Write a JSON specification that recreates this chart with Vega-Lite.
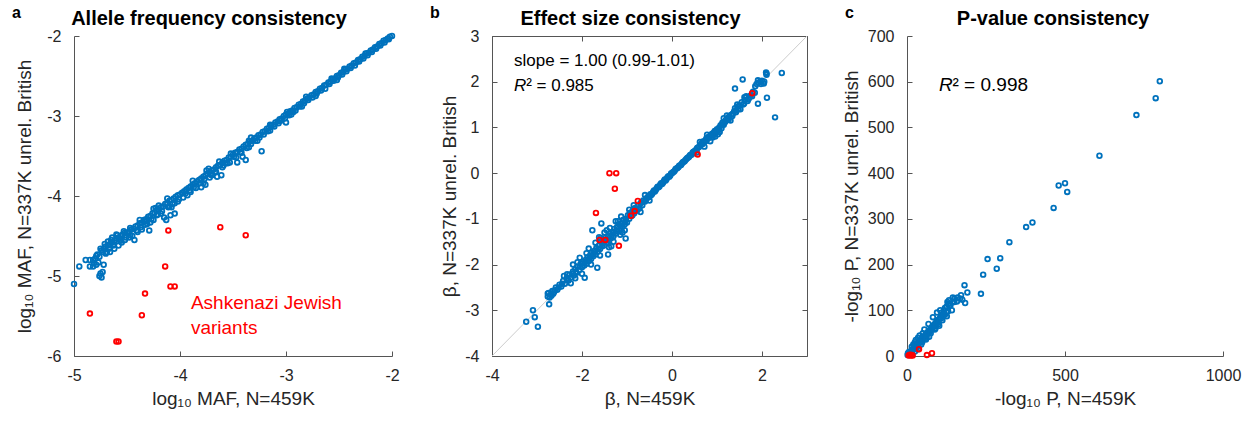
{
"$schema":"https://vega.github.io/schema/vega-lite/v6.json",
"padding":{"left":11,"top":5,"right":5,"bottom":5},
"bounds":"flush",
"spacing":100,
"config":{
 "font":"Liberation Sans",
 "numberFormat":"d",
 "locale":{"number":{"decimal":".","thousands":",","grouping":[3],"currency":["$",""],"minus":"-"}},
 "view":{"stroke":null},
 "axis":{"grid":false,"domainColor":"#555555","domainWidth":1,"tickColor":"#555555","tickWidth":1,"tickSize":-5,"labelFontSize":16,"labelColor":"#262626","labelFlush":false,"labelOverlap":false,"labelFont":"Liberation Sans","titleFont":"Liberation Sans","titleFontSize":19,"titleFontWeight":"normal","titleColor":"#262626"},
 "axisX":{"labelPadding":16,"titlePadding":6},
 "axisY":{"labelPadding":18},
 "point":{"shape":"circle","filled":false,"size":22,"strokeWidth":1.8,"opacity":1},
 "title":{"fontSize":20,"fontWeight":"bold","color":"#000000","anchor":"middle","frame":"group","baseline":"alphabetic","offset":-24,"font":"Liberation Sans"}
},
"datasets":{
"a_o":[
{"x":-2.00,"y":-2.00},{"x":-2.02,"y":-2.01},{"x":-2.04,"y":-2.03},{"x":-2.06,"y":-2.05},{"x":-2.08,"y":-2.06},{"x":-2.10,"y":-2.09},{"x":-2.12,"y":-2.10},{"x":-2.14,"y":-2.13},{"x":-2.16,"y":-2.14},{"x":-2.18,"y":-2.17},{"x":-2.20,"y":-2.18},{"x":-2.22,"y":-2.21},{"x":-2.24,"y":-2.22},{"x":-2.26,"y":-2.25},{"x":-2.28,"y":-2.26},{"x":-2.30,"y":-2.29},{"x":-2.32,"y":-2.30},{"x":-2.34,"y":-2.33},{"x":-2.36,"y":-2.34},{"x":-2.38,"y":-2.37},{"x":-2.40,"y":-2.38},{"x":-2.42,"y":-2.41},{"x":-2.44,"y":-2.42},{"x":-2.46,"y":-2.45},{"x":-2.48,"y":-2.46},{"x":-2.50,"y":-2.49},{"x":-2.52,"y":-2.50},{"x":-2.54,"y":-2.53},{"x":-2.56,"y":-2.54},{"x":-2.58,"y":-2.57},{"x":-2.60,"y":-2.58},{"x":-2.62,"y":-2.61},{"x":-2.64,"y":-2.62},{"x":-2.66,"y":-2.65},{"x":-2.68,"y":-2.66},{"x":-2.70,"y":-2.69},{"x":-2.72,"y":-2.70},{"x":-2.74,"y":-2.73},{"x":-2.76,"y":-2.74},{"x":-2.78,"y":-2.77},{"x":-2.80,"y":-2.78},{"x":-2.82,"y":-2.81},{"x":-2.84,"y":-2.82},{"x":-2.86,"y":-2.85},{"x":-2.88,"y":-2.86},{"x":-2.90,"y":-2.89},{"x":-2.92,"y":-2.90},{"x":-2.94,"y":-2.93},{"x":-2.96,"y":-2.94},{"x":-2.98,"y":-2.97},{"x":-3.00,"y":-2.98},
{"x":-2.15,"y":-2.16},{"x":-2.35,"y":-2.37},{"x":-2.52,"y":-2.55},{"x":-2.63,"y":-2.66},{"x":-2.72,"y":-2.75},{"x":-2.85,"y":-2.88},{"x":-2.95,"y":-2.98},{"x":-2.45,"y":-2.41},{"x":-2.25,"y":-2.22},{"x":-2.57,"y":-2.53},{"x":-2.81,"y":-2.76},{"x":-2.91,"y":-2.93},{"x":-3.00,"y":-3.08},
{"x":-2.03,"y":-2.04},{"x":-2.07,"y":-2.08},{"x":-2.11,"y":-2.12},{"x":-2.19,"y":-2.20},{"x":-2.23,"y":-2.24},{"x":-2.27,"y":-2.28},{"x":-2.31,"y":-2.32},{"x":-2.39,"y":-2.40},{"x":-2.43,"y":-2.44},{"x":-2.47,"y":-2.48},{"x":-2.51,"y":-2.52},{"x":-2.55,"y":-2.56},{"x":-2.59,"y":-2.60},{"x":-2.67,"y":-2.68},{"x":-2.71,"y":-2.72},{"x":-2.75,"y":-2.77},{"x":-2.79,"y":-2.80},{"x":-2.83,"y":-2.84},{"x":-2.87,"y":-2.88},{"x":-2.93,"y":-2.95},{"x":-2.97,"y":-2.99},{"x":-2.99,"y":-2.95},
{"x":-3.02,"y":-3.00},{"x":-3.04,"y":-3.03},{"x":-3.06,"y":-3.04},{"x":-3.08,"y":-3.07},{"x":-3.10,"y":-3.08},{"x":-3.12,"y":-3.11},{"x":-3.14,"y":-3.12},{"x":-3.16,"y":-3.15},{"x":-3.18,"y":-3.16},{"x":-3.20,"y":-3.19},{"x":-3.22,"y":-3.20},{"x":-3.24,"y":-3.23},{"x":-3.26,"y":-3.24},{"x":-3.28,"y":-3.27},{"x":-3.30,"y":-3.28},{"x":-3.32,"y":-3.31},{"x":-3.34,"y":-3.32},{"x":-3.36,"y":-3.35},{"x":-3.38,"y":-3.36},{"x":-3.40,"y":-3.38},{"x":-3.42,"y":-3.41},{"x":-3.44,"y":-3.42},{"x":-3.46,"y":-3.45},{"x":-3.48,"y":-3.46},{"x":-3.50,"y":-3.48},{"x":-3.52,"y":-3.51},{"x":-3.54,"y":-3.52},{"x":-3.56,"y":-3.55},{"x":-3.58,"y":-3.56},{"x":-3.60,"y":-3.58},{"x":-3.62,"y":-3.61},{"x":-3.64,"y":-3.62},{"x":-3.66,"y":-3.64},{"x":-3.68,"y":-3.67},{"x":-3.70,"y":-3.68},{"x":-3.72,"y":-3.70},{"x":-3.74,"y":-3.72},{"x":-3.76,"y":-3.74},{"x":-3.78,"y":-3.76},{"x":-3.80,"y":-3.78},{"x":-3.82,"y":-3.80},{"x":-3.84,"y":-3.82},{"x":-3.86,"y":-3.84},{"x":-3.88,"y":-3.86},{"x":-3.90,"y":-3.88},{"x":-3.92,"y":-3.90},{"x":-3.94,"y":-3.92},{"x":-3.96,"y":-3.94},{"x":-3.98,"y":-3.96},{"x":-4.00,"y":-3.98},
{"x":-3.01,"y":-3.03},{"x":-3.07,"y":-3.09},{"x":-3.11,"y":-3.13},{"x":-3.17,"y":-3.19},{"x":-3.21,"y":-3.23},{"x":-3.25,"y":-3.27},{"x":-3.29,"y":-3.31},{"x":-3.33,"y":-3.35},{"x":-3.37,"y":-3.40},{"x":-3.43,"y":-3.45},{"x":-3.49,"y":-3.51},{"x":-3.57,"y":-3.59},{"x":-3.59,"y":-3.62},{"x":-3.67,"y":-3.70},{"x":-3.71,"y":-3.73},{"x":-3.77,"y":-3.79},{"x":-3.81,"y":-3.84},{"x":-3.87,"y":-3.89},{"x":-3.91,"y":-3.93},{"x":-3.95,"y":-3.97},{"x":-3.73,"y":-3.66},{"x":-3.33,"y":-3.27},
{"x":-3.23,"y":-3.44},{"x":-3.05,"y":-3.06},{"x":-3.15,"y":-3.18},{"x":-3.27,"y":-3.31},{"x":-3.35,"y":-3.39},{"x":-3.42,"y":-3.46},{"x":-3.47,"y":-3.52},{"x":-3.41,"y":-3.51},{"x":-3.38,"y":-3.55},{"x":-3.46,"y":-3.58},{"x":-3.52,"y":-3.47},{"x":-3.55,"y":-3.59},{"x":-3.60,"y":-3.64},{"x":-3.65,"y":-3.76},{"x":-3.61,"y":-3.74},{"x":-3.66,"y":-3.70},{"x":-3.72,"y":-3.77},{"x":-3.76,"y":-3.86},{"x":-3.80,"y":-3.89},{"x":-3.78,"y":-3.84},{"x":-3.85,"y":-3.90},{"x":-3.90,"y":-3.95},{"x":-3.93,"y":-3.99},{"x":-3.97,"y":-4.02},{"x":-3.63,"y":-3.57},{"x":-3.75,"y":-3.68},{"x":-3.88,"y":-3.81},{"x":-3.35,"y":-3.31},{"x":-3.15,"y":-3.11},{"x":-3.53,"y":-3.58},{"x":-3.70,"y":-3.74},
{"x":-4.02,"y":-3.99},{"x":-4.04,"y":-4.01},{"x":-4.06,"y":-4.03},{"x":-4.08,"y":-4.05},{"x":-4.10,"y":-4.06},{"x":-4.12,"y":-4.09},{"x":-4.14,"y":-4.10},{"x":-4.16,"y":-4.13},{"x":-4.18,"y":-4.14},{"x":-4.20,"y":-4.17},{"x":-4.22,"y":-4.18},{"x":-4.24,"y":-4.21},{"x":-4.26,"y":-4.22},{"x":-4.28,"y":-4.25},{"x":-4.30,"y":-4.26},{"x":-4.32,"y":-4.29},{"x":-4.34,"y":-4.30},{"x":-4.36,"y":-4.33},{"x":-4.38,"y":-4.34},{"x":-4.40,"y":-4.37},{"x":-4.42,"y":-4.38},{"x":-4.44,"y":-4.41},{"x":-4.46,"y":-4.42},{"x":-4.48,"y":-4.45},{"x":-4.50,"y":-4.46},
{"x":-4.01,"y":-4.04},{"x":-4.07,"y":-4.10},{"x":-4.11,"y":-4.14},{"x":-4.17,"y":-4.19},{"x":-4.21,"y":-4.23},{"x":-4.27,"y":-4.29},{"x":-4.33,"y":-4.32},{"x":-4.37,"y":-4.39},{"x":-4.41,"y":-4.43},{"x":-4.47,"y":-4.49},{"x":-4.23,"y":-4.15},{"x":-4.47,"y":-4.40},
{"x":-4.02,"y":-4.07},{"x":-4.05,"y":-4.09},{"x":-4.05,"y":-4.22},{"x":-4.10,"y":-4.13},{"x":-4.15,"y":-4.27},{"x":-4.13,"y":-4.30},{"x":-4.18,"y":-4.22},{"x":-4.22,"y":-4.24},{"x":-4.25,"y":-4.30},{"x":-4.28,"y":-4.33},{"x":-4.33,"y":-4.36},{"x":-4.36,"y":-4.42},{"x":-4.40,"y":-4.45},{"x":-4.43,"y":-4.55},{"x":-4.45,"y":-4.50},{"x":-4.48,"y":-4.52},{"x":-4.12,"y":-4.03},{"x":-4.25,"y":-4.16},{"x":-4.38,"y":-4.30},{"x":-4.20,"y":-4.12},{"x":-4.29,"y":-4.43},{"x":-4.09,"y":-4.24},{"x":-4.08,"y":-4.14},{"x":-4.31,"y":-4.35},
{"x":-4.52,"y":-4.46},{"x":-4.54,"y":-4.48},{"x":-4.56,"y":-4.50},{"x":-4.58,"y":-4.52},{"x":-4.60,"y":-4.53},{"x":-4.62,"y":-4.56},{"x":-4.64,"y":-4.58},{"x":-4.66,"y":-4.60},{"x":-4.68,"y":-4.62},{"x":-4.70,"y":-4.63},{"x":-4.72,"y":-4.66},{"x":-4.74,"y":-4.68},{"x":-4.55,"y":-4.58},{"x":-4.58,"y":-4.62},{"x":-4.62,"y":-4.66},{"x":-4.66,"y":-4.70},{"x":-4.70,"y":-4.72},{"x":-4.73,"y":-4.70},{"x":-4.75,"y":-4.66},{"x":-4.52,"y":-4.55},{"x":-4.60,"y":-4.48},{"x":-4.64,"y":-4.52},{"x":-4.68,"y":-4.57},{"x":-4.56,"y":-4.56},{"x":-4.71,"y":-4.60},
{"x":-4.51,"y":-4.52},{"x":-4.57,"y":-4.55},{"x":-4.63,"y":-4.62},{"x":-4.67,"y":-4.66},{"x":-4.69,"y":-4.70},{"x":-4.65,"y":-4.55},{"x":-4.59,"y":-4.49},{"x":-4.53,"y":-4.44},
{"x":-4.95,"y":-4.88},{"x":-4.85,"y":-4.80},{"x":-4.82,"y":-4.80},{"x":-4.80,"y":-4.78},{"x":-4.85,"y":-4.88},{"x":-4.82,"y":-4.88},{"x":-4.79,"y":-4.86},{"x":-4.77,"y":-4.83},{"x":-4.79,"y":-4.75},{"x":-4.76,"y":-4.76},{"x":-4.75,"y":-4.97},{"x":-4.74,"y":-5.02},{"x":-4.76,"y":-5.00},{"x":-4.73,"y":-4.95},{"x":-4.72,"y":-4.86},{"x":-5.00,"y":-5.10},{"x":-4.78,"y":-4.73},{"x":-4.81,"y":-4.84},{"x":-4.89,"y":-4.80}
],
"a_r":[
{"x":-4.11,"y":-4.43},{"x":-3.62,"y":-4.39},{"x":-3.38,"y":-4.49},{"x":-4.14,"y":-4.88},{"x":-4.09,"y":-5.13},{"x":-4.05,"y":-5.13},{"x":-4.33,"y":-5.22},{"x":-4.36,"y":-5.49},{"x":-4.85,"y":-5.47},{"x":-4.60,"y":-5.82},{"x":-4.58,"y":-5.82}
],
"b_o":[
{"x":-0.60,"y":-0.62},{"x":-0.56,"y":-0.55},{"x":-0.52,"y":-0.53},{"x":-0.48,"y":-0.46},{"x":-0.44,"y":-0.45},{"x":-0.40,"y":-0.38},{"x":-0.36,"y":-0.37},{"x":-0.32,"y":-0.30},{"x":-0.28,"y":-0.29},{"x":-0.24,"y":-0.22},{"x":-0.20,"y":-0.21},{"x":-0.16,"y":-0.14},{"x":-0.12,"y":-0.13},{"x":-0.08,"y":-0.07},{"x":-0.04,"y":-0.05},{"x":0,"y":0},{"x":0.04,"y":0.03},{"x":0.08,"y":0.09},{"x":0.12,"y":0.11},{"x":0.16,"y":0.16},{"x":0.20,"y":0.18},{"x":0.24,"y":0.24},{"x":0.28,"y":0.26},{"x":0.32,"y":0.31},{"x":0.36,"y":0.34},{"x":0.40,"y":0.39},{"x":0.44,"y":0.41},{"x":0.48,"y":0.47},{"x":0.52,"y":0.49},{"x":0.56,"y":0.55},{"x":0.60,"y":0.57},
{"x":-0.58,"y":-0.58},{"x":-0.54,"y":-0.52},{"x":-0.50,"y":-0.51},{"x":-0.46,"y":-0.48},{"x":-0.42,"y":-0.41},{"x":-0.38,"y":-0.40},{"x":-0.34,"y":-0.33},{"x":-0.30,"y":-0.31},{"x":-0.26,"y":-0.25},{"x":-0.22,"y":-0.24},{"x":-0.18,"y":-0.17},{"x":-0.14,"y":-0.16},{"x":-0.10,"y":-0.09},{"x":-0.06,"y":-0.08},{"x":-0.02,"y":-0.01},{"x":0.02,"y":0.02},{"x":0.06,"y":0.05},{"x":0.10,"y":0.10},{"x":0.14,"y":0.13},{"x":0.18,"y":0.17},{"x":0.22,"y":0.21},{"x":0.26,"y":0.25},{"x":0.30,"y":0.29},{"x":0.34,"y":0.33},{"x":0.38,"y":0.36},{"x":0.42,"y":0.40},{"x":0.46,"y":0.45},{"x":0.50,"y":0.48},{"x":0.54,"y":0.52},{"x":0.58,"y":0.56},
{"x":0.64,"y":0.62},{"x":0.68,"y":0.64},{"x":0.70,"y":0.70},{"x":0.74,"y":0.70},{"x":0.76,"y":0.75},{"x":0.80,"y":0.76},{"x":0.82,"y":0.80},{"x":0.86,"y":0.82},{"x":0.88,"y":0.85},{"x":0.90,"y":0.78},{"x":0.92,"y":0.88},{"x":0.95,"y":0.92},{"x":0.98,"y":0.90},{"x":1.00,"y":0.96},{"x":1.02,"y":0.85},{"x":1.05,"y":1.00},{"x":1.08,"y":1.05},{"x":1.10,"y":0.98},{"x":1.12,"y":1.10},{"x":1.15,"y":1.06},{"x":1.18,"y":1.12},{"x":1.20,"y":1.17},{"x":1.24,"y":1.20},{"x":1.27,"y":1.24},{"x":1.30,"y":1.15},{"x":1.32,"y":1.28},{"x":1.35,"y":1.30},{"x":1.38,"y":1.35},{"x":1.40,"y":1.42},{"x":1.43,"y":1.38},{"x":1.46,"y":1.45},{"x":1.50,"y":1.48},{"x":1.52,"y":1.40},{"x":1.55,"y":1.55},{"x":1.58,"y":1.50},{"x":1.62,"y":1.60},{"x":1.65,"y":1.68},{"x":1.70,"y":1.62},{"x":1.75,"y":1.70},{"x":1.80,"y":1.78},{"x":1.85,"y":1.90},{"x":1.88,"y":1.95},{"x":1.92,"y":1.98},{"x":1.96,"y":2.00},{"x":2.00,"y":2.02},{"x":2.05,"y":2.00},{"x":2.10,"y":2.15},{"x":2.10,"y":2.18},{"x":0.72,"y":0.58},{"x":0.85,"y":0.70},{"x":0.96,"y":0.80},{"x":1.06,"y":0.90},{"x":0.55,"y":0.45},{"x":0.62,"y":0.68},{"x":0.78,"y":0.84},{"x":1.22,"y":1.26},{"x":1.45,"y":1.50},{"x":1.15,"y":1.20},
{"x":0.66,"y":0.66},{"x":0.72,"y":0.68},{"x":0.78,"y":0.74},{"x":0.84,"y":0.79},{"x":0.90,"y":0.86},{"x":0.94,"y":0.84},{"x":1.00,"y":0.92},{"x":1.04,"y":0.95},{"x":1.10,"y":1.04},{"x":1.16,"y":1.10},{"x":1.26,"y":1.18},{"x":1.34,"y":1.25},{"x":1.42,"y":1.33},{"x":1.48,"y":1.40},{"x":1.60,"y":1.52},{"x":1.68,"y":1.58},{"x":1.78,"y":1.68},{"x":1.84,"y":1.76},{"x":1.98,"y":1.95},{"x":2.04,"y":1.96},
{"x":2.44,"y":2.19},{"x":2.29,"y":1.22},{"x":2.11,"y":1.65},{"x":2.09,"y":2.20},{"x":1.57,"y":2.05},{"x":1.40,"y":1.85},{"x":1.91,"y":2.03},{"x":1.71,"y":1.65},{"x":1.61,"y":1.66},{"x":1.91,"y":1.52},
{"x":-0.64,"y":-0.60},{"x":-0.66,"y":-0.70},{"x":-0.70,"y":-0.66},{"x":-0.72,"y":-0.76},{"x":-0.76,"y":-0.72},{"x":-0.78,"y":-0.82},{"x":-0.80,"y":-0.78},{"x":-0.84,"y":-0.88},{"x":-0.86,"y":-0.80},{"x":-0.90,"y":-0.94},{"x":-0.92,"y":-0.86},{"x":-0.95,"y":-1.00},{"x":-0.98,"y":-0.92},{"x":-1.00,"y":-1.08},{"x":-1.02,"y":-1.00},{"x":-1.05,"y":-1.12},{"x":-1.08,"y":-1.02},{"x":-1.10,"y":-1.18},{"x":-1.12,"y":-1.10},{"x":-1.15,"y":-1.22},{"x":-1.18,"y":-1.12},{"x":-1.20,"y":-1.28},{"x":-1.22,"y":-1.18},{"x":-1.25,"y":-1.32},{"x":-1.28,"y":-1.22},{"x":-1.30,"y":-1.38},{"x":-1.32,"y":-1.28},{"x":-1.35,"y":-1.42},{"x":-1.38,"y":-1.32},{"x":-1.40,"y":-1.48},{"x":-1.42,"y":-1.38},{"x":-1.45,"y":-1.52},{"x":-1.48,"y":-1.42},{"x":-1.50,"y":-1.58},{"x":-1.52,"y":-1.48},{"x":-1.55,"y":-1.60},{"x":-1.58,"y":-1.50},{"x":-1.60,"y":-1.66},{"x":-1.62,"y":-1.58},{"x":-1.65,"y":-1.72},{"x":-1.68,"y":-1.64},{"x":-1.70,"y":-1.78},{"x":-1.72,"y":-1.70},{"x":-1.75,"y":-1.82},{"x":-1.78,"y":-1.74},{"x":-1.80,"y":-1.88},{"x":-1.82,"y":-1.80},{"x":-1.85,"y":-1.92},{"x":-1.88,"y":-1.84},{"x":-1.90,"y":-1.98},{"x":-1.92,"y":-1.90},{"x":-1.95,"y":-2.02},{"x":-1.98,"y":-1.94},{"x":-2.00,"y":-2.06},{"x":-2.03,"y":-1.98},{"x":-2.06,"y":-2.12},{"x":-2.10,"y":-2.05},{"x":-2.12,"y":-2.18},{"x":-2.15,"y":-2.10},{"x":-2.18,"y":-2.24},{"x":-2.20,"y":-2.15},{"x":-2.24,"y":-2.28},{"x":-2.28,"y":-2.22},{"x":-2.30,"y":-2.35},{"x":-2.34,"y":-2.30},{"x":-2.38,"y":-2.42},{"x":-2.42,"y":-2.36},{"x":-2.46,"y":-2.48},{"x":-2.50,"y":-2.44},{"x":-2.55,"y":-2.55},{"x":-2.58,"y":-2.50},{"x":-2.62,"y":-2.60},{"x":-2.66,"y":-2.58},{"x":-2.70,"y":-2.66},{"x":-2.74,"y":-2.62},{"x":-2.76,"y":-2.70},{"x":-2.72,"y":-2.72},{"x":-2.68,"y":-2.68},
{"x":-0.68,"y":-0.64},{"x":-0.74,"y":-0.78},{"x":-0.82,"y":-0.76},{"x":-0.88,"y":-0.92},{"x":-0.94,"y":-0.90},{"x":-1.04,"y":-1.06},{"x":-1.14,"y":-1.16},{"x":-1.24,"y":-1.26},{"x":-1.34,"y":-1.36},{"x":-1.44,"y":-1.46},{"x":-1.54,"y":-1.54},{"x":-1.64,"y":-1.66},{"x":-1.74,"y":-1.76},{"x":-1.84,"y":-1.86},{"x":-1.94,"y":-1.96},{"x":-2.04,"y":-2.04},{"x":-2.14,"y":-2.16},{"x":-2.22,"y":-2.20},{"x":-2.32,"y":-2.32},{"x":-2.44,"y":-2.42},{"x":-2.52,"y":-2.50},{"x":-2.60,"y":-2.56},{"x":-2.64,"y":-2.64},{"x":-1.20,"y":-1.05},{"x":-1.38,"y":-1.20},{"x":-1.58,"y":-1.42},{"x":-1.70,"y":-1.52},{"x":-1.90,"y":-1.75},{"x":-2.10,"y":-1.95},{"x":-1.10,"y":-1.30},{"x":-1.40,"y":-1.62},{"x":-1.60,"y":-1.80},{"x":-1.80,"y":-2.00},{"x":-2.00,"y":-2.20},{"x":-2.15,"y":-2.30},
{"x":-1.77,"y":-1.25},{"x":-1.57,"y":-1.10},{"x":-1.13,"y":-0.95},{"x":-1.03,"y":-1.43},{"x":-1.35,"y":-1.60},{"x":-1.42,"y":-1.78},{"x":-1.66,"y":-2.07},{"x":-1.94,"y":-2.29},{"x":-2.25,"y":-2.41},{"x":-2.33,"y":-2.21},{"x":-2.76,"y":-2.63},{"x":-2.73,"y":-2.87},{"x":-3.24,"y":-3.25},{"x":-3.09,"y":-3.00},{"x":-3.05,"y":-3.15},{"x":-2.98,"y":-3.36},{"x":-1.25,"y":-1.05},{"x":-1.45,"y":-1.25},{"x":-1.62,"y":-1.40},{"x":-0.85,"y":-0.70},{"x":-0.95,"y":-0.80},{"x":-1.15,"y":-1.35},{"x":-1.30,"y":-1.50},{"x":-1.85,"y":-1.65},{"x":-2.05,"y":-1.85},{"x":-2.20,"y":-2.00},{"x":-2.40,"y":-2.25},{"x":-1.50,"y":-1.30},{"x":-1.05,"y":-1.25},{"x":-0.70,"y":-0.85},{"x":-0.60,"y":-0.48},{"x":-0.50,"y":-0.60}
],
"b_r":[
{"x":-1.39,"y":0.0},{"x":-1.24,"y":0.0},{"x":-1.27,"y":-0.34},{"x":-1.69,"y":-0.87},{"x":-0.76,"y":-0.61},{"x":-0.83,"y":-0.83},{"x":-0.91,"y":-0.93},{"x":-1.61,"y":-1.46},{"x":-1.48,"y":-1.46},{"x":-1.18,"y":-1.59},{"x":0.57,"y":0.41},{"x":1.78,"y":1.75}
],
"c_o":[
{"x":2,"y":2},{"x":5,"y":4},{"x":8,"y":6},{"x":10,"y":9},{"x":12,"y":8},{"x":14,"y":12},{"x":16,"y":11},{"x":18,"y":15},{"x":20,"y":14},{"x":22,"y":18},{"x":24,"y":17},{"x":26,"y":21},{"x":28,"y":20},{"x":30,"y":25},{"x":32,"y":23},{"x":34,"y":28},{"x":36,"y":26},{"x":38,"y":31},{"x":40,"y":29},{"x":42,"y":34},{"x":44,"y":32},{"x":46,"y":38},{"x":48,"y":36},{"x":50,"y":41},{"x":52,"y":39},{"x":55,"y":44},{"x":58,"y":42},{"x":60,"y":48},{"x":62,"y":46},{"x":65,"y":52},{"x":68,"y":50},{"x":70,"y":56},{"x":72,"y":54},{"x":75,"y":60},{"x":78,"y":58},{"x":80,"y":64},{"x":82,"y":62},{"x":85,"y":68},{"x":88,"y":66},{"x":90,"y":72},{"x":92,"y":70},{"x":95,"y":76},{"x":98,"y":74},{"x":100,"y":80},{"x":105,"y":84},{"x":108,"y":82},{"x":110,"y":88},{"x":115,"y":92},{"x":120,"y":90},{"x":125,"y":96},{"x":130,"y":98},{"x":112,"y":78},{"x":90,"y":60},{"x":70,"y":42},{"x":60,"y":36},{"x":100,"y":70},{"x":45,"y":25},{"x":30,"y":18},{"x":25,"y":30},{"x":35,"y":40},{"x":50,"y":50},{"x":120,"y":105},{"x":135,"y":110},
{"x":3,"y":6},{"x":6,"y":9},{"x":9,"y":4},{"x":15,"y":20},{"x":20,"y":25},{"x":28,"y":35},{"x":33,"y":22},{"x":40,"y":45},{"x":48,"y":30},{"x":55,"y":58},{"x":62,"y":40},{"x":68,"y":70},{"x":75,"y":50},{"x":82,"y":85},{"x":88,"y":58},{"x":95,"y":95},{"x":102,"y":66},{"x":105,"y":100},{"x":110,"y":95},{"x":118,"y":100},{"x":125,"y":108},{"x":128,"y":118},{"x":138,"y":112},{"x":150,"y":118},{"x":15,"y":5},{"x":25,"y":10},{"x":35,"y":15},{"x":150,"y":125},{"x":160,"y":128},{"x":175,"y":123},{"x":145,"y":128},
{"x":133,"y":122},{"x":147,"y":119},{"x":158,"y":119},{"x":168,"y":126},{"x":132,"y":115},{"x":142,"y":100},{"x":184,"y":116},{"x":171,"y":133},{"x":182,"y":155},{"x":191,"y":139},{"x":116,"y":90},{"x":126,"y":87},
{"x":800,"y":601},{"x":787,"y":564},{"x":726,"y":527},{"x":609,"y":438},{"x":480,"y":373},{"x":500,"y":378},{"x":507,"y":359},{"x":464,"y":324},{"x":397,"y":292},{"x":377,"y":282},{"x":324,"y":249},{"x":255,"y":212},{"x":295,"y":214},{"x":284,"y":191},{"x":241,"y":178},{"x":234,"y":136}
],
"c_r":[
{"x":5,"y":1},{"x":8,"y":2},{"x":12,"y":1},{"x":15,"y":2},{"x":10,"y":3},{"x":18,"y":1},{"x":38,"y":15},{"x":63,"y":2},{"x":79,"y":6}
]
},
"hconcat":[
{"width":318,"height":320,
 "title":{"text":"Allele frequency consistency","dx":-24},
 "resolve":{"axis":{"x":"independent","y":"independent"}},
 "layer":[
  {"data":{"name":"a_o"},"mark":{"type":"point","color":"#0072BD"},
   "encoding":{"x":{"field":"x","type":"quantitative","scale":{"domain":[-5,-2],"nice":false,"zero":false},"axis":{"values":[-5,-4,-3,-2],"title":"log₁₀ MAF, N=459K"}},
               "y":{"field":"y","type":"quantitative","scale":{"domain":[-6,-2],"nice":false,"zero":false},"axis":{"values":[-6,-5,-4,-3,-2],"title":"log₁₀ MAF, N=337K unrel. British","titlePadding":12}}}},
  {"data":{"name":"a_r"},"mark":{"type":"point","color":"#FF0000"},
   "encoding":{"x":{"field":"x","type":"quantitative","axis":null},"y":{"field":"y","type":"quantitative","axis":null}}},
  {"data":{"values":[{"x":-3.897,"y":-5.41,"t":"Ashkenazi Jewish\nvariants"}]},"mark":{"type":"text","align":"left","baseline":"alphabetic","color":"#FF0000","fontSize":19,"lineHeight":25,"lineBreak":"\n"},
   "encoding":{"x":{"field":"x","type":"quantitative","axis":null},"y":{"field":"y","type":"quantitative","axis":null},"text":{"field":"t"}}},
  {"data":{"values":[{"x":-5.585,"y":-1.78,"t":"a"}]},"mark":{"type":"text","align":"left","baseline":"alphabetic","color":"#000000","fontSize":16,"fontWeight":"bold"},
   "encoding":{"x":{"field":"x","type":"quantitative","axis":null},"y":{"field":"y","type":"quantitative","axis":null},"text":{"field":"t"}}}
 ]},
{"width":315,"height":320,
 "title":{"text":"Effect size consistency","dx":-19},
 "resolve":{"axis":{"x":"independent","y":"independent"}},
 "layer":[
  {"data":{"values":[{"x":-4,"y":-4,"x2":3,"y2":3}]},"mark":{"type":"rule","color":"#cccccc","strokeWidth":1},
   "encoding":{"x":{"field":"x","type":"quantitative","scale":{"domain":[-4,3],"nice":false,"zero":false},"axis":{"orient":"top","labels":false,"title":null,"values":[-4,-2,0,2]}},
               "x2":{"field":"x2"},
               "y":{"field":"y","type":"quantitative","scale":{"domain":[-4,3],"nice":false,"zero":false},"axis":{"orient":"right","labels":false,"title":null,"values":[-4,-3,-2,-1,0,1,2,3]}},
               "y2":{"field":"y2"}}},
  {"data":{"name":"b_o"},"mark":{"type":"point","color":"#0072BD"},
   "encoding":{"x":{"field":"x","type":"quantitative","axis":{"values":[-4,-2,0,2],"title":"β, N=459K"}},
               "y":{"field":"y","type":"quantitative","axis":{"values":[-4,-3,-2,-1,0,1,2,3],"title":"β, N=337K unrel. British","titlePadding":5}}}},
  {"data":{"name":"b_r"},"mark":{"type":"point","color":"#FF0000"},
   "encoding":{"x":{"field":"x","type":"quantitative","axis":null},"y":{"field":"y","type":"quantitative","axis":null}}},
  {"data":{"values":[{"x":-3.51,"y":2.35,"t":"slope = 1.00 (0.99-1.01)"},{"x":-3.24,"y":1.80,"t":"² = 0.985"}]},"mark":{"type":"text","align":"left","baseline":"alphabetic","color":"#000000","fontSize":17},
   "encoding":{"x":{"field":"x","type":"quantitative","axis":null},"y":{"field":"y","type":"quantitative","axis":null},"text":{"field":"t"}}},
  {"data":{"values":[{"x":-3.51,"y":1.80,"t":"R"}]},"mark":{"type":"text","align":"left","baseline":"alphabetic","color":"#000000","fontSize":17,"fontStyle":"italic"},
   "encoding":{"x":{"field":"x","type":"quantitative","axis":null},"y":{"field":"y","type":"quantitative","axis":null},"text":{"field":"t"}}},
  {"data":{"values":[{"x":-5.38,"y":3.39,"t":"b"}]},"mark":{"type":"text","align":"left","baseline":"alphabetic","color":"#000000","fontSize":16,"fontWeight":"bold"},
   "encoding":{"x":{"field":"x","type":"quantitative","axis":null},"y":{"field":"y","type":"quantitative","axis":null},"text":{"field":"t"}}}
 ]},
{"width":316,"height":320,
 "title":{"text":"P-value consistency","dx":-12},
 "resolve":{"axis":{"x":"independent","y":"independent"}},
 "layer":[
  {"data":{"name":"c_o"},"mark":{"type":"point","color":"#0072BD"},
   "encoding":{"x":{"field":"x","type":"quantitative","scale":{"domain":[0,1000],"nice":false,"zero":false},"axis":{"values":[0,500,1000],"title":"-log₁₀ P, N=459K"}},
               "y":{"field":"y","type":"quantitative","scale":{"domain":[0,700],"nice":false,"zero":false},"axis":{"values":[0,100,200,300,400,500,600,700],"title":"-log₁₀ P, N=337K unrel. British","titlePadding":6}}}},
  {"data":{"name":"c_r"},"mark":{"type":"point","color":"#FF0000"},
   "encoding":{"x":{"field":"x","type":"quantitative","axis":null},"y":{"field":"y","type":"quantitative","axis":null}}},
  {"data":{"values":[{"x":144,"y":580,"t":"² = 0.998"}]},"mark":{"type":"text","align":"left","baseline":"alphabetic","color":"#000000","fontSize":19},
   "encoding":{"x":{"field":"x","type":"quantitative","axis":null},"y":{"field":"y","type":"quantitative","axis":null},"text":{"field":"t"}}},
  {"data":{"values":[{"x":101,"y":580,"t":"R"}]},"mark":{"type":"text","align":"left","baseline":"alphabetic","color":"#000000","fontSize":19,"fontStyle":"italic"},
   "encoding":{"x":{"field":"x","type":"quantitative","axis":null},"y":{"field":"y","type":"quantitative","axis":null},"text":{"field":"t"}}},
  {"data":{"values":[{"x":-196,"y":739,"t":"c"}]},"mark":{"type":"text","align":"left","baseline":"alphabetic","color":"#000000","fontSize":16,"fontWeight":"bold"},
   "encoding":{"x":{"field":"x","type":"quantitative","axis":null},"y":{"field":"y","type":"quantitative","axis":null},"text":{"field":"t"}}}
 ]}
]
}
